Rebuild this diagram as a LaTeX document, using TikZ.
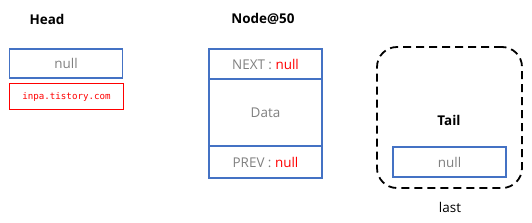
\documentclass[tikz,border=0pt]{standalone}
\usepackage{fontspec}
\setmainfont{Open Sans}
\setmonofont{DejaVu Sans Mono}
\usepackage{tikz}
\definecolor{boxblue}{HTML}{4472C4}
\definecolor{txtgray}{HTML}{808080}
\definecolor{linkred}{HTML}{FF0000}

\begin{document}
\begin{tikzpicture}[x=1bp,y=-1bp,
  font=\fontsize{13.5}{15}\selectfont,
  title/.style={font=\fontsize{13.5}{15}\selectfont\bfseries},
  cell/.style={draw=boxblue,line width=1.6bp,text=txtgray,minimum width=113bp,inner sep=0pt},
  linkbox/.style={draw=linkred,line width=1.6bp,text=linkred,minimum width=114bp,minimum height=26bp,inner sep=0pt,font=\fontsize{9.2}{10}\selectfont\ttfamily}]
 \useasboundingbox (0,0) rectangle (532,222);
 \node[title] (headtitle) at (47,19) {Head};
 \node[cell,minimum height=29bp] (headnull) at (66,63.5) {null};
 \node[linkbox] (site) at (66.5,96.5) {inpa.tistory.com};

 \node[title] (nodetitle) at (263,19) {Node@50};
 \node[cell,minimum height=30bp] (next) at (265.5,64) {NEXT : \textcolor{linkred}{null}};
 \node[cell,minimum height=67bp] (data) at (265.5,112.5) {Data};
 \node[cell,minimum height=32bp] (prev) at (265.5,162) {PREV : \textcolor{linkred}{null}};

 \node[draw,line width=1.8bp,dash pattern=on 8bp off 5bp,rounded corners=20bp,
  minimum width=145bp,minimum height=141bp] (tailbox) at (449.5,117.5) {};
 \node[title] (tailtitle) at (449,120) {Tail};
 \node[cell,minimum height=30bp] (tailnull) at (449.5,162) {null};
 \node (last) at (450,207) {last};
\end{tikzpicture}
\end{document}
